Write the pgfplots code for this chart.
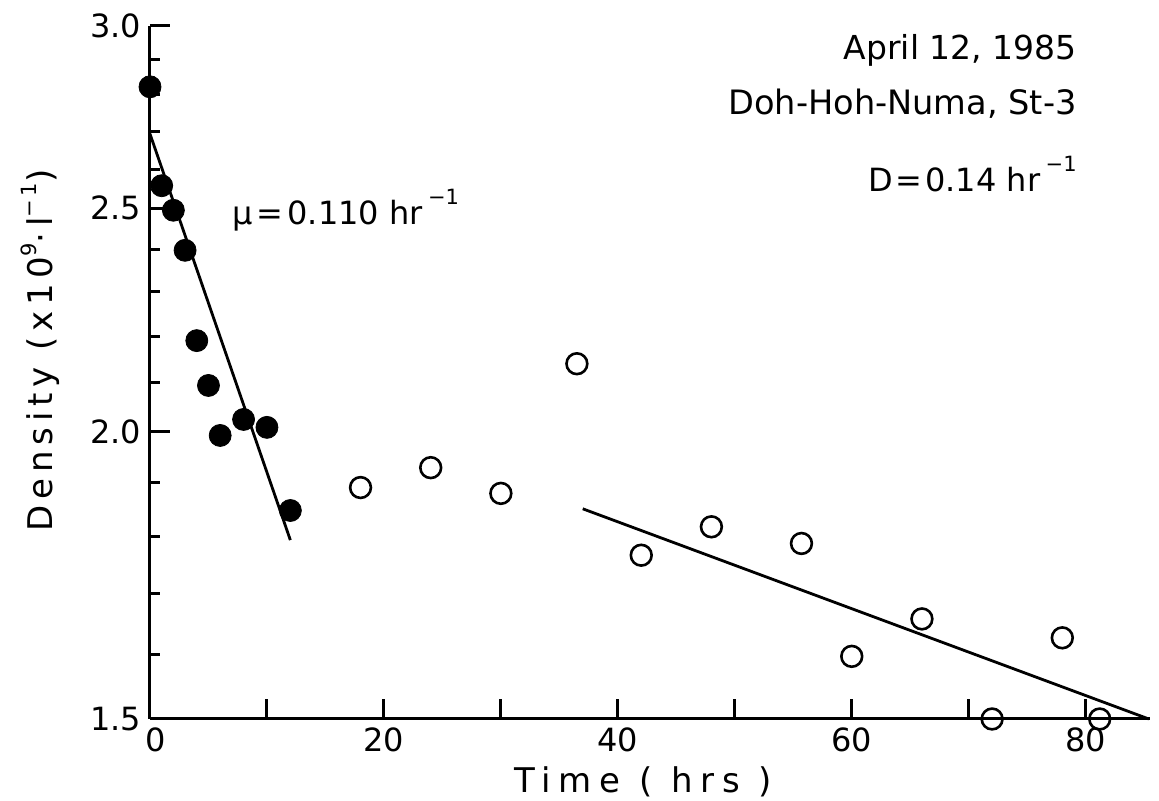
\documentclass[border=0pt]{standalone}
\usepackage{fontspec}
\setmainfont{DejaVu Sans}
\usepackage{pgfplots}
\usepackage{pgfplotstable}
\pgfplotsset{compat=1.18}

% cell density during the first (batch) hours, filled symbols
\pgfplotstableread{
t    dens
0    2.823
1    2.557
2    2.495
3    2.397
4    2.190
5    2.094
6    1.992
8    2.024
10   2.008
12   1.848
}\earlyphase

% cell density under continuous dilution, open symbols
\pgfplotstableread{
t    dens
18   1.891
24   1.929
30   1.880
36.5 2.140
42   1.767
48   1.818
55.7 1.788
60   1.597
66   1.658
72   1.500
78   1.627
81.2 1.500
}\latephase

% fitted regression lines
\pgfplotstableread{
t    dens
0    2.693
12   1.794
}\fitearly
\pgfplotstableread{
t    dens
37   1.851
85.4 1.500
}\fitlate

\newcommand{\supr}[1]{\raisebox{0.85ex}{\fontsize{10.5}{12}\selectfont #1}}
\newcommand{\suph}[1]{\raisebox{1.15ex}{\fontsize{10.5}{12}\selectfont #1}}

\begin{document}
\begin{tikzpicture}
\begin{axis}[
  at={(0,0)}, anchor=south west,
  scale only axis, width=500pt, height=346.5pt,
  xmin=0, xmax=85.5, ymin=1.5, ymax=3.0,
  ymode=log,
  axis x line=bottom, axis y line=left,
  axis line style={-, line width=1.5pt},
  tick align=inside,
  xtick={0,10,...,80}, xticklabels={\hspace*{6pt}0,,20,,40,,60,,80},
  ytick={1.5,2.0,2.5,3.0}, yticklabels={1.5,2.0,2.5,3.0},
  minor ytick={1.6,1.7,1.8,1.9,2.1,2.2,2.3,2.4,2.6,2.7,2.8,2.9},
  major tick length=10pt, minor tick length=5pt,
  every tick/.style={black, line width=1.5pt},
  /pgf/number format/assume math mode=true,
  tick label style={font=\fontsize{16}{18}\selectfont},
  xticklabel style={yshift=-1pt},
  yticklabel style={xshift=-1pt},
  xlabel={\addfontfeature{LetterSpace=23}Time ( hrs )},
  ylabel={\addfontfeature{LetterSpace=17}Density (x10\supr{9}·l\supr{−1})},
  label style={font=\fontsize{17}{20}\selectfont},
  xlabel style={at={(axis description cs:0.493,0)}, anchor=center, yshift=-31.5pt},
  ylabel style={at={(axis description cs:0,0.532)}, anchor=center, yshift=55pt},
  clip=false,
]
\addplot[black, line width=1.4pt] table[x=t, y=dens] {\fitearly};
\addplot[black, line width=1.4pt] table[x=t, y=dens] {\fitlate};
\addplot[only marks, mark=*, mark size=5.5pt, mark options={fill=black, draw=black}]
  table[x=t, y=dens] {\earlyphase};
\addplot[only marks, mark=o, mark size=5.2pt, mark options={draw=black, fill=white, line width=1.3pt}]
  table[x=t, y=dens] {\latephase};
\end{axis}
% annotations
\node[anchor=base east, inner sep=0pt, font=\fontsize{16.5}{20}\selectfont] at (463.5pt,329.5pt) {April 12, 1985};
\node[anchor=base east, inner sep=0pt, font=\fontsize{16.8}{20}\selectfont] at (463.5pt,302pt) {Doh-Hoh-Numa, St-3};
\node[anchor=base east, inner sep=0pt, font=\fontsize{16}{20}\selectfont] at (463.5pt,263.5pt) {D\kern1.5pt=\kern1.5pt0.14 hr\,\suph{−1}};
\node[anchor=base west, inner sep=0pt, font=\fontsize{16}{20}\selectfont] at (41pt,247pt) {μ\kern2pt=\kern2pt0.110 hr\,\suph{−1}};
\pgfresetboundingbox
\useasboundingbox (-75pt,-41pt) rectangle (504.5pt,359.5pt);
\end{tikzpicture}
\end{document}
